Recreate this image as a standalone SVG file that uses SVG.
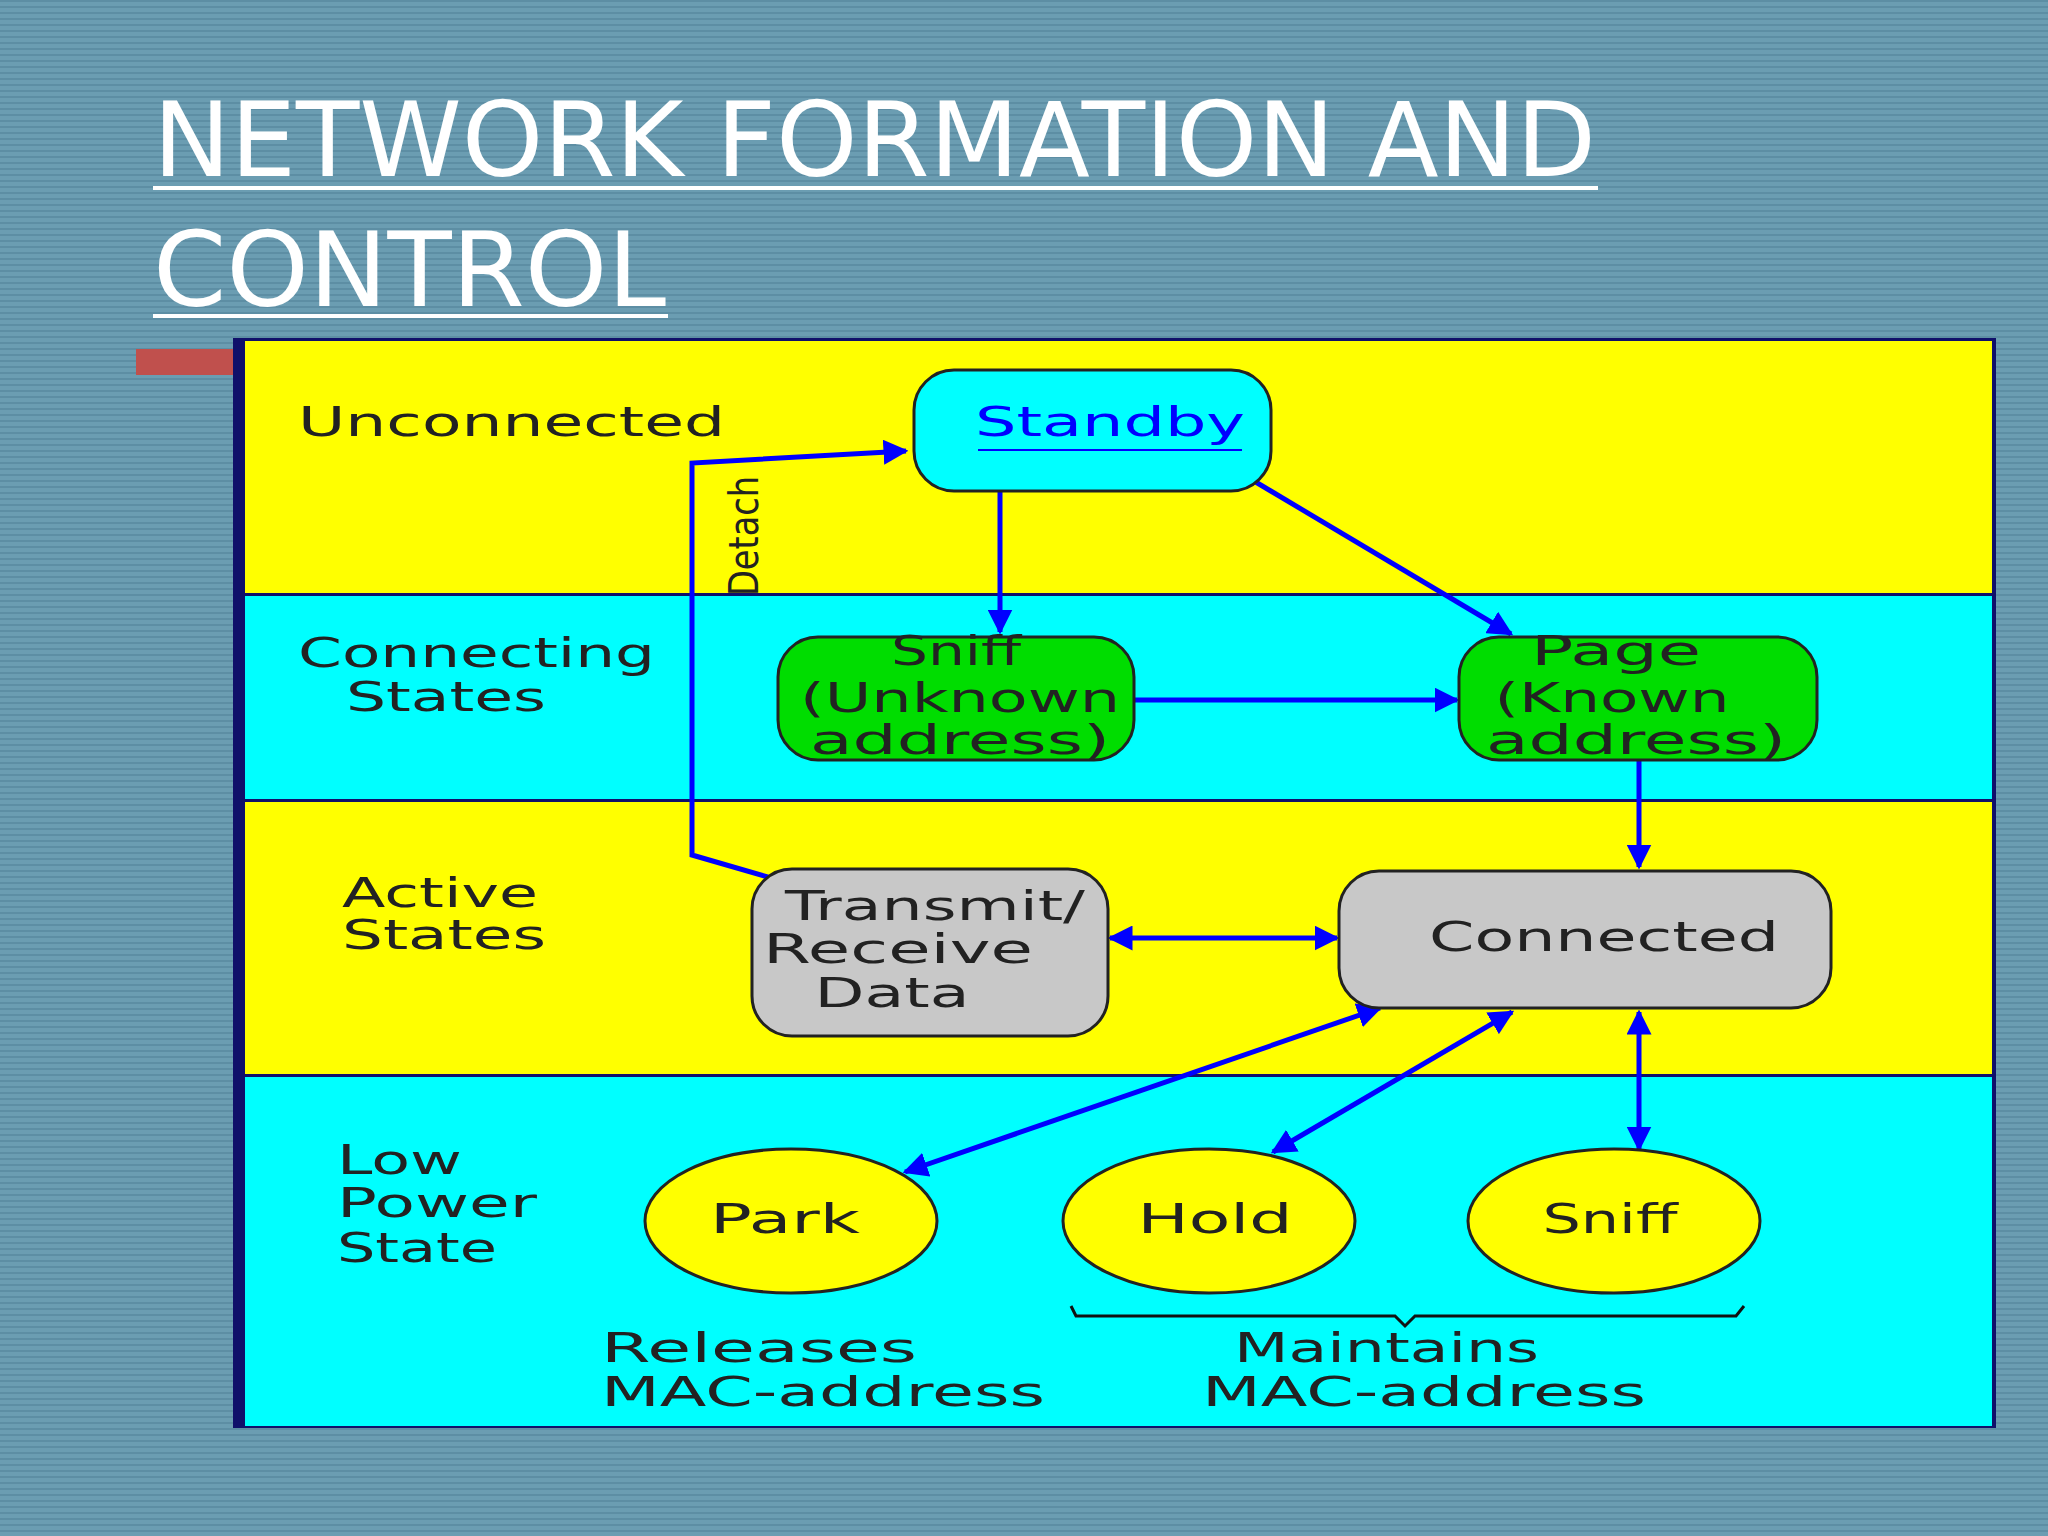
<svg xmlns="http://www.w3.org/2000/svg" width="2048" height="1536" viewBox="0 0 2048 1536">
<defs>
<pattern id="stripes" width="8" height="6" patternUnits="userSpaceOnUse">
<rect width="8" height="6" fill="#6b9db2"/>
<rect y="0" width="8" height="2" fill="#5d8ea4"/>
</pattern>
<marker id="ah" viewBox="0 0 10 10" refX="9" refY="5" markerWidth="5" markerHeight="5" orient="auto-start-reverse" markerUnits="strokeWidth">
<path d="M0,0 L10,5 L0,10 z" fill="#0000ff"/>
</marker>
<style>
.lbl{font-family:"DejaVu Sans","Liberation Sans",sans-serif;font-size:40px;fill:#222;}
.nd{font-family:"DejaVu Sans","Liberation Sans",sans-serif;font-size:40px;fill:#222;text-anchor:middle;}
.ttl{font-family:"DejaVu Sans","Liberation Sans",sans-serif;font-size:104px;fill:#fff;}
.c{stroke:#0000ff;stroke-width:5;fill:none;}
.node{stroke:#222;stroke-width:3;}
</style>
</defs>
<rect width="2048" height="1536" fill="url(#stripes)"/>
<text class="ttl" x="153" y="176" textLength="1443" lengthAdjust="spacingAndGlyphs">NETWORK FORMATION AND</text>
<rect x="153" y="186" width="1445" height="4" fill="#fff"/>
<text class="ttl" x="153" y="306" textLength="513" lengthAdjust="spacingAndGlyphs">CONTROL</text>
<rect x="153" y="314" width="515" height="4" fill="#fff"/>
<rect x="136" y="349" width="100" height="26" fill="#c0504d"/>
<g id="bands">
<rect x="233" y="338" width="1763" height="1090" fill="#10106a"/>
<rect x="245" y="341" width="1747" height="252" fill="#ffff00"/>
<rect x="245" y="596" width="1747" height="203" fill="#00ffff"/>
<rect x="245" y="802" width="1747" height="272" fill="#ffff00"/>
<rect x="245" y="1077" width="1747" height="349" fill="#00ffff"/>
</g>
<g id="labels">
<text class="lbl" x="298" y="436" textLength="427" lengthAdjust="spacingAndGlyphs">Unconnected</text>
<text class="lbl" x="298" y="667" textLength="357" lengthAdjust="spacingAndGlyphs">Connecting</text>
<text class="lbl" x="346" y="711" textLength="200" lengthAdjust="spacingAndGlyphs">States</text>
<text class="lbl" x="342" y="907" textLength="196" lengthAdjust="spacingAndGlyphs">Active</text>
<text class="lbl" x="342" y="949" textLength="204" lengthAdjust="spacingAndGlyphs">States</text>
<text class="lbl" x="337" y="1174" textLength="125" lengthAdjust="spacingAndGlyphs">Low</text>
<text class="lbl" x="337" y="1217" textLength="200" lengthAdjust="spacingAndGlyphs">Power</text>
<text class="lbl" x="337" y="1262" textLength="160" lengthAdjust="spacingAndGlyphs">State</text>
<text class="lbl" x="601" y="1362" textLength="316" lengthAdjust="spacingAndGlyphs">Releases</text>
<text class="lbl" x="601" y="1406" textLength="444" lengthAdjust="spacingAndGlyphs">MAC-address</text>
<text class="lbl" x="1234" y="1362" textLength="305" lengthAdjust="spacingAndGlyphs">Maintains</text>
<text class="lbl" x="1202" y="1406" textLength="444" lengthAdjust="spacingAndGlyphs">MAC-address</text>
<text class="lbl" transform="translate(758,596) rotate(-90)" textLength="120" lengthAdjust="spacingAndGlyphs">Detach</text>
<path d="M1071,1306 L1076,1316 L1395,1316 L1405,1326 L1415,1316 L1736,1316 L1744,1306" fill="none" stroke="#111" stroke-width="3"/>
</g>
<g id="connectors">
<line class="c" x1="1000" y1="491" x2="1000" y2="632" marker-end="url(#ah)"/>
<line class="c" x1="1254" y1="481" x2="1511" y2="634" marker-end="url(#ah)"/>
<line class="c" x1="1134" y1="700" x2="1457" y2="700" marker-end="url(#ah)"/>
<line class="c" x1="1639" y1="760" x2="1639" y2="867" marker-end="url(#ah)"/>
<line class="c" x1="1110" y1="938" x2="1337" y2="938" marker-start="url(#ah)" marker-end="url(#ah)"/>
<polyline class="c" points="771,878 692,855 692,463 906,451" marker-end="url(#ah)"/>
<line class="c" x1="1380" y1="1008" x2="905" y2="1172" marker-start="url(#ah)" marker-end="url(#ah)"/>
<line class="c" x1="1512" y1="1012" x2="1273" y2="1152" marker-start="url(#ah)" marker-end="url(#ah)"/>
<line class="c" x1="1639" y1="1012" x2="1639" y2="1149" marker-start="url(#ah)" marker-end="url(#ah)"/>
</g>
<g id="standby">
<rect class="node" x="914" y="370" width="357" height="121" rx="40" fill="#00ffff"/>
<text class="nd" x="1110" y="436" fill="#0000ff" style="fill:#0000ff" textLength="270" lengthAdjust="spacingAndGlyphs">Standby</text>
<line x1="978" y1="450" x2="1242" y2="450" stroke="#0000ff" stroke-width="2"/>
</g>
<g id="sniff-unknown">
<rect class="node" x="778" y="637" width="356" height="123" rx="40" fill="#00dd00"/>
<text class="nd" x="956" y="665" textLength="130" lengthAdjust="spacingAndGlyphs">Sniff</text>
<text class="nd" x="960" y="712" textLength="320" lengthAdjust="spacingAndGlyphs">(Unknown</text>
<text class="nd" x="960" y="754" textLength="300" lengthAdjust="spacingAndGlyphs">address)</text>
</g>
<g id="page">
<rect class="node" x="1459" y="637" width="358" height="123" rx="40" fill="#00dd00"/>
<text class="nd" x="1616" y="665" textLength="170" lengthAdjust="spacingAndGlyphs">Page</text>
<text class="nd" x="1612" y="712" textLength="235" lengthAdjust="spacingAndGlyphs">(Known</text>
<text class="nd" x="1636" y="754" textLength="300" lengthAdjust="spacingAndGlyphs">address)</text>
</g>
<g id="transmit">
<rect class="node" x="752" y="869" width="356" height="167" rx="40" fill="#c8c8c8"/>
<text class="nd" x="935" y="920" textLength="300" lengthAdjust="spacingAndGlyphs">Transmit/</text>
<text class="nd" x="898" y="963" textLength="270" lengthAdjust="spacingAndGlyphs">Receive</text>
<text class="nd" x="892" y="1007" textLength="155" lengthAdjust="spacingAndGlyphs">Data</text>
</g>
<g id="connected">
<rect class="node" x="1339" y="871" width="492" height="137" rx="40" fill="#c8c8c8"/>
<text class="nd" x="1604" y="951" textLength="350" lengthAdjust="spacingAndGlyphs">Connected</text>
</g>
<g id="park">
<ellipse class="node" cx="791" cy="1221" rx="146" ry="72" fill="#ffff00"/>
<text class="nd" x="785" y="1233" textLength="150" lengthAdjust="spacingAndGlyphs">Park</text>
</g>
<g id="hold">
<ellipse class="node" cx="1209" cy="1221" rx="146" ry="72" fill="#ffff00"/>
<text class="nd" x="1215" y="1233" textLength="155" lengthAdjust="spacingAndGlyphs">Hold</text>
</g>
<g id="sniff">
<ellipse class="node" cx="1614" cy="1221" rx="146" ry="72" fill="#ffff00"/>
<text class="nd" x="1610" y="1233" textLength="135" lengthAdjust="spacingAndGlyphs">Sniff</text>
</g>
</svg>
